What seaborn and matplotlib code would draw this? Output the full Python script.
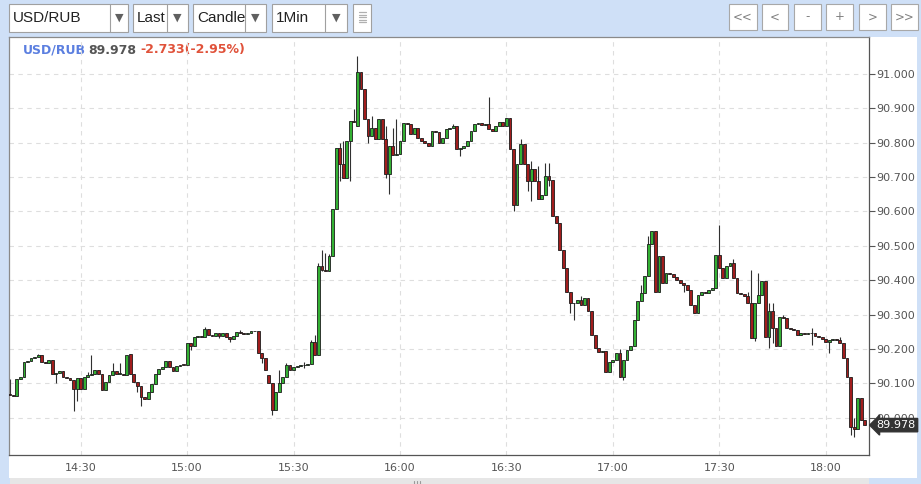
import numpy as np
import pandas as pd
import matplotlib
matplotlib.use("Agg")
import matplotlib.pyplot as plt
import matplotlib.transforms as mtransforms
from matplotlib.patches import Rectangle
import seaborn as sns

# USD/RUB, 1-minute candles from 14:10; open = previous close unless listed
first_open = 90.070
closes = [
    90.067, 90.064, 90.112, 90.118, 90.161, 90.164, 90.174, 90.176, 90.181, 90.161,
    90.158, 90.168, 90.127, 90.130, 90.137, 90.119, 90.115, 90.108, 90.083, 90.115,
    90.083, 90.119, 90.125, 90.128, 90.139, 90.127, 90.080, 90.104, 90.125, 90.137,
    90.127, 90.127, 90.124, 90.181, 90.127, 90.103, 90.093, 90.059, 90.054, 90.074,
    90.098, 90.127, 90.142, 90.146, 90.164, 90.146, 90.137, 90.149, 90.154, 90.153,
    90.217, 90.207, 90.236, 90.238, 90.236, 90.257, 90.241, 90.238, 90.245, 90.238,
    90.246, 90.236, 90.228, 90.238, 90.248, 90.246, 90.244, 90.246, 90.251, 90.252,
    90.187, 90.173, 90.139, 90.100, 90.022, 90.075, 90.100, 90.119, 90.153, 90.139,
    90.148, 90.150, 90.153, 90.152, 90.156, 90.221, 90.183, 90.442, 90.431, 90.426,
    90.470, 90.606, 90.786, 90.737, 90.698, 90.805, 90.864, 90.860, 91.005, 90.956,
    90.868, 90.820, 90.844, 90.810, 90.868, 90.810, 90.708, 90.791, 90.763, 90.766,
    90.805, 90.859, 90.854, 90.825, 90.844, 90.815, 90.805, 90.800, 90.791, 90.835,
    90.830, 90.800, 90.815, 90.839, 90.844, 90.849, 90.781, 90.784, 90.791, 90.805,
    90.835, 90.854, 90.858, 90.853, 90.856, 90.839, 90.835, 90.849, 90.861, 90.849,
    90.871, 90.781, 90.620, 90.737, 90.796, 90.737, 90.688, 90.723, 90.688, 90.635,
    90.647, 90.703, 90.693, 90.586, 90.567, 90.489, 90.435, 90.367, 90.333, 90.335,
    90.343, 90.328, 90.348, 90.309, 90.241, 90.202, 90.192, 90.195, 90.134, 90.163,
    90.168, 90.187, 90.119, 90.168, 90.197, 90.207, 90.285, 90.338, 90.362, 90.411,
    90.504, 90.543, 90.367, 90.470, 90.392, 90.421, 90.418, 90.408, 90.401, 90.392,
    90.387, 90.372, 90.328, 90.304, 90.358, 90.367, 90.364, 90.372, 90.377, 90.474,
    90.435, 90.406, 90.440, 90.450, 90.406, 90.362, 90.360, 90.353, 90.333, 90.231,
    90.333, 90.358, 90.397, 90.236, 90.309, 90.260, 90.207, 90.294, 90.290, 90.260,
    90.257, 90.256, 90.241, 90.245, 90.244, 90.246, 90.245, 90.238, 90.235, 90.228,
    90.221, 90.226, 90.230, 90.226, 90.216, 90.173, 90.119, 89.973, 89.966, 90.056,
    89.993, 89.978,
]
open_fix = {34: 90.185, 73: 90.124, 98: 90.849}
high_fix = {0: 90.112, 8: 90.186, 22: 90.132, 23: 90.181, 29: 90.158, 31: 90.158,
            51: 90.217, 55: 90.263, 65: 90.254, 76: 90.139, 78: 90.160, 83: 90.163,
            85: 90.226, 86: 90.240, 87: 90.450, 88: 90.489, 89: 90.480, 90: 90.475,
            93: 90.800, 94: 90.805, 97: 90.898, 98: 91.053, 102: 90.878, 106: 90.850,
            108: 90.844, 109: 90.869, 125: 90.854, 135: 90.932, 144: 90.810,
            147: 90.747, 149: 90.732, 151: 90.742, 152: 90.742, 161: 90.353,
            172: 90.201, 178: 90.387, 180: 90.530, 200: 90.562, 204: 90.462,
            208: 90.367, 209: 90.431, 211: 90.421, 214: 90.333, 215: 90.333,
            218: 90.300, 226: 90.260, 234: 90.236, 238: 90.000}
low_fix = {13: 90.100, 18: 90.020, 19: 90.049, 36: 90.074, 37: 90.035, 51: 90.197,
           59: 90.231, 62: 90.221, 71: 90.158, 74: 90.008, 83: 90.143, 88: 90.428,
           93: 90.688, 96: 90.688, 101: 90.800, 106: 90.698, 107: 90.650, 127: 90.761,
           142: 90.601, 146: 90.659, 147: 90.630, 152: 90.674, 158: 90.304,
           159: 90.285, 173: 90.109, 190: 90.367, 210: 90.222, 214: 90.202,
           215: 90.216, 226: 90.212, 231: 90.188, 237: 89.949, 238: 89.944}

tick_minutes = [20, 50, 80, 110, 140, 170, 200, 230]
tick_labels = ["14:30", "15:00", "15:30", "16:00", "16:30", "17:00", "17:30", "18:00"]
y_ticks = [90.0, 90.1, 90.2, 90.3, 90.4, 90.5, 90.6, 90.7, 90.8, 90.9, 91.0]
last_price = 89.978

df = pd.DataFrame({"close": closes})
df["minute"] = np.arange(len(df))
df["open"] = df["close"].shift(1).fillna(first_open)
for k, v in open_fix.items():
    df.loc[k, "open"] = v
df["high"] = df[["open", "close"]].max(axis=1)
df["low"] = df[["open", "close"]].min(axis=1)
for k, v in high_fix.items():
    df.loc[k, "high"] = max(v, df.loc[k, "high"])
for k, v in low_fix.items():
    df.loc[k, "low"] = min(v, df.loc[k, "low"])
df["up"] = df["close"] >= df["open"]

sns.set_theme(style="white")
plt.rcParams["font.family"] = ["DejaVu Sans"]

fig = plt.figure(figsize=(9.21, 4.84), dpi=100)
fig.patch.set_facecolor("#cfe0f7")

# page-like background layer in pixel coordinates
bg = fig.add_axes([0, 0, 1, 1], zorder=0)
bg.set_xlim(0, 921)
bg.set_ylim(484, 0)
bg.axis("off")
bg.add_patch(Rectangle((9, 37), 908, 441, fc="white", ec="none"))
bg.add_patch(Rectangle((10, 478), 859, 6, fc="#e6e6e6", ec="none"))
for xx in [414, 417, 420]:
    bg.plot([xx, xx], [480.5, 484], color="#9a9a9a", lw=0.8)

# toolbar
for label, x0, x1, div in [("USD/RUB", 9, 128, 110), ("Last", 133, 188, 167),
                           ("Candle", 193, 266, 245), ("1Min", 272, 347, 325)]:
    bg.add_patch(Rectangle((x0, 4), x1 - x0, 28, fc="white", ec="#a0a0a0", lw=0.8))
    bg.plot([div, div], [4, 32], color="#a0a0a0", lw=0.8)
    clip = Rectangle((x0, 4), div - x0, 28, transform=bg.transData)
    t = bg.text(x0 + 4, 18.5, label, fontsize=11, family="Liberation Sans",
                color="#222222", va="center", ha="left")
    t.set_clip_path(clip)
    bg.text((div + x1) / 2, 17.5, "\u25bc", fontsize=8, color="#606060",
            ha="center", va="center")
bg.add_patch(Rectangle((353, 4), 18, 28, fc="white", ec="#a0a0a0", lw=0.8))
for yy in [12, 14.5, 17, 19.5, 22]:
    bg.plot([359, 366], [yy, yy], color="#b0b0b0", lw=0.9)
for x0, x1, label in [(729, 757, "<<"), (762, 788, "<"), (794, 821, "-"),
                      (826, 853, "+"), (859, 886, ">"), (891, 918, ">>")]:
    bg.add_patch(Rectangle((x0, 4), x1 - x0, 26, fc="white", ec="#a8a8a8", lw=0.8))
    bg.text((x0 + x1) / 2, 17, label, fontsize=8.5, color="#808080",
            ha="center", va="center")

# chart header
bg.text(23, 50, "USD/RUB", fontsize=9, weight="bold", color="#5b7fe0", va="center")
bg.text(88, 50, "89.978", fontsize=9, weight="bold", color="#555555", va="center")
bg.text(140, 50, "-2.733(-2.95%)", fontsize=9, weight="bold", color="#e0523a",
        va="center")

ax = fig.add_axes([9 / 921, (484 - 455) / 484, 860 / 921, 418 / 484], zorder=1)
ax.patch.set_alpha(0)

up_c, down_c = "#33b033", "#a11d1d"
ax.vlines(df["minute"], df["low"], df["high"], color="#303030", lw=0.8, zorder=2)
body = (df["close"] - df["open"]).abs().clip(lower=0.002)
bottom = df[["open", "close"]].min(axis=1)
ax.bar(df["minute"], body, bottom=bottom, width=0.8,
       color=np.where(df["up"], up_c, down_c), edgecolor="#1c1c1c", lw=0.6, zorder=3)

ax.set_xlim(-0.21, 242.2)
ax.set_ylim(89.891, 91.108)
ax.set_xticks(tick_minutes)
ax.set_xticklabels(tick_labels)
ax.set_yticks(y_ticks)
ax.set_yticklabels([f"{v:.3f}" for v in y_ticks])
ax.yaxis.tick_right()
ax.tick_params(axis="both", direction="out", length=4, width=0.8, color="#555555",
               labelcolor="#555555", labelsize=8, pad=1.5)
ax.grid(True, color="#dedede", lw=0.8, ls=(0, (4, 4)))
for side in ["top", "left"]:
    ax.spines[side].set_color("#8a8a8a")
    ax.spines[side].set_linewidth(0.9)
for side in ["right", "bottom"]:
    ax.spines[side].set_color("#555555")
    ax.spines[side].set_linewidth(0.9)
ax.set_xlabel("")
ax.set_ylabel("")

trans = mtransforms.blended_transform_factory(ax.transAxes, ax.transData)
ax.text(1.009, last_price, f"{last_price:.3f}", transform=trans, fontsize=8,
        color="white", ha="left", va="center", clip_on=False, zorder=10,
        bbox=dict(boxstyle="larrow,pad=0.15", fc="#333333", ec="#333333"))

fig.savefig("out.png", dpi=100, facecolor=fig.get_facecolor())
